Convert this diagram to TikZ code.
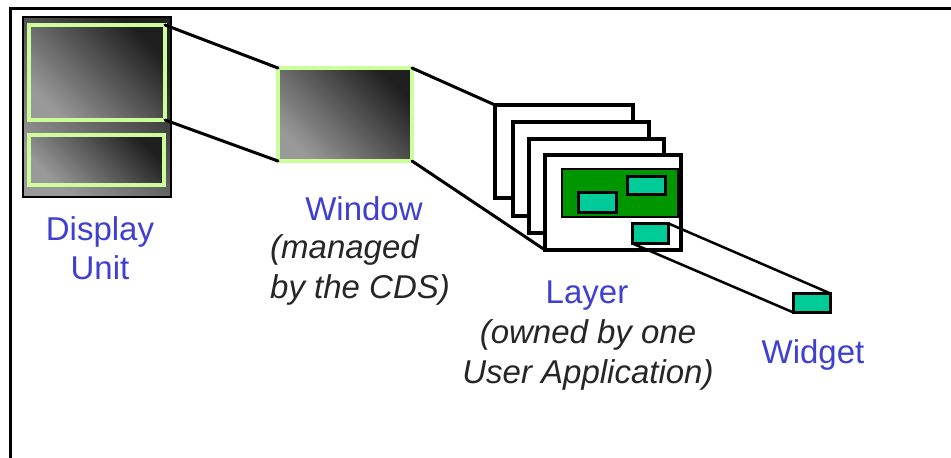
\documentclass[tikz,border=0pt]{standalone}
\usepackage{fontspec}
\setmainfont{Liberation Sans}
\begin{document}
\begin{tikzpicture}[x=1pt,y=-1pt,
  lbl/.style={text=labelblue,font=\fontsize{33}{39}\selectfont,align=center,inner sep=0pt},
  note/.style={text=black!85,font=\fontsize{33}{40}\selectfont\itshape,align=left,inner sep=0pt},
  box/.style={rectangle,inner sep=0pt,outer sep=0pt,anchor=north west},
  grad/.style={box,shading=axis,top color=black!88,bottom color=black!40,shading angle=-45},
  screen/.style={grad,draw=screengreen,line width=4pt},
  frame/.style={box,draw=black,line width=4pt,fill=white},
  teal/.style={box,draw=black,line width=2.5pt,fill=tealc},
  conn/.style={draw=black,line width=3pt,line cap=round}]
\definecolor{labelblue}{RGB}{64,64,208}
\definecolor{screengreen}{RGB}{204,255,153}
\definecolor{tealc}{RGB}{0,204,153}
\definecolor{darkgreenc}{RGB}{0,150,0}
\useasboundingbox (0,0) rectangle (951,458);
\fill[white] (0,0) rectangle (951,458);
% outer frame (only top and left edges visible)
\draw[line width=3pt] (960,8.5) -- (10,8.5) -- (10,470);
% display unit
\node[grad,draw=black,line width=2pt,minimum width=148,minimum height=180] (du) at (23,17) {};
\node[screen,minimum width=136,minimum height=95] (du1) at (29,25) {};
\node[screen,minimum width=135,minimum height=50] (du2) at (29,135) {};
% window
\node[screen,minimum width=134,minimum height=93] (win) at (278,68) {};
% layers
\node[frame,minimum width=138,minimum height=93] (l1) at (495,105) {};
\node[frame,minimum width=136,minimum height=94] (l2) at (513,122) {};
\node[frame,minimum width=135,minimum height=94] (l3) at (529,139) {};
\node[frame,minimum width=136,minimum height=95] (l4) at (545,155) {};
\node[box,draw=black,line width=2pt,fill=darkgreenc,minimum width=116,minimum height=48] (green) at (562,169) {};
\node[teal,minimum width=38,minimum height=20] (ta) at (578.5,192.5) {};
\node[teal,minimum width=38,minimum height=18] (tb) at (627.5,176.5) {};
\node[teal,minimum width=36,minimum height=20] (tc) at (632.5,223.5) {};
% widget
\node[teal,minimum width=37,minimum height=19] (wid) at (793.5,293.5) {};
% connectors
\draw[conn] (du1.north east) -- (win.north west);
\draw[conn] (du1.south east) -- (win.south west);
\draw[conn] (win.north east) -- (l1.north west);
\draw[conn] (win.south east) -- (l4.south west);
\draw[conn,line width=2.5pt] (tc.north east) -- (wid.north east);
\draw[conn,line width=2.5pt] (tc.south west) -- (wid.south west);
% labels (base anchor = baseline of the last line)
\node[lbl,anchor=base] (tdisp) at (100,279) {Display\\Unit};
\node[lbl,anchor=base] (twin) at (364,220) {Window};
\node[note,anchor=base west] (twinn) at (270,298) {(managed\\by the CDS)};
\node[lbl,anchor=base] (tlay) at (587,303) {Layer};
\node[note,anchor=base,align=center] (tlayn) at (588,383) {(owned by one\\User Application)};
\node[lbl,anchor=base] (twid) at (813,363) {Widget};
\end{tikzpicture}
\end{document}
